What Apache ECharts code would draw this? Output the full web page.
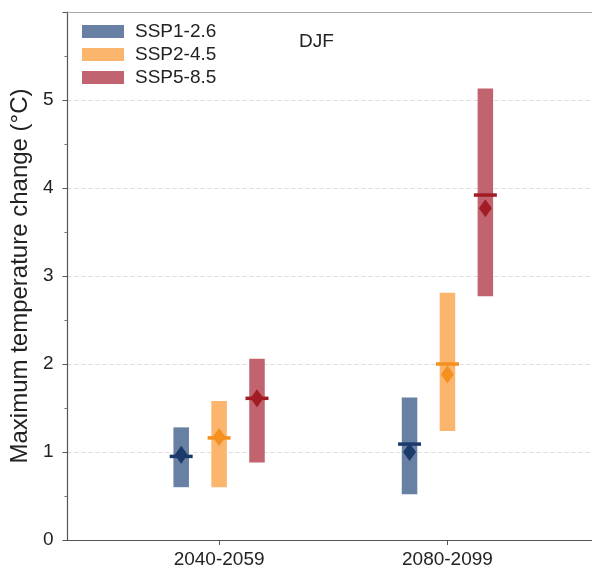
<!DOCTYPE html>
<html>
<head>
<meta charset="utf-8">
<script src="https://cdn.jsdelivr.net/npm/echarts@6/dist/echarts.min.js"></script>
<style>
  html, body { margin: 0; padding: 0; background: #fff; }
  #chart { width: 592px; height: 569px; }
</style>
</head>
<body>
<div id="chart"></div>
<script>
// Periods on the x axis
const periods = ['2040-2059', '2080-2099'];
const scenarios = ['SSP1-2.6', 'SSP2-4.5', 'SSP5-8.5'];

// Range (min, max) of warming per scenario and period
const ssp126Low = [0.60, 0.52];
const ssp126High = [1.28, 1.62];
const ssp245Low = [0.60, 1.24];
const ssp245High = [1.58, 2.81];
const ssp585Low = [0.88, 2.77];
const ssp585High = [2.06, 5.13];

// Median (horizontal bar) and mean (diamond)
const ssp126Median = [0.95, 1.09];
const ssp245Median = [1.16, 2.00];
const ssp585Median = [1.61, 3.92];
const ssp126Mean = [0.97, 1.00];
const ssp245Mean = [1.17, 1.88];
const ssp585Mean = [1.61, 3.77];

const yTicks = [0, 1, 2, 3, 4, 5];

const barColors = ['#6880a3', '#fbb56d', '#c1646f'];
const markColors = ['#1c3a6a', '#f5901f', '#a11c24'];
const offsets = [-0.166, 0, 0.166];

const lows = [ssp126Low, ssp245Low, ssp585Low];
const highs = [ssp126High, ssp245High, ssp585High];
const medians = [ssp126Median, ssp245Median, ssp585Median];
const means = [ssp126Mean, ssp245Mean, ssp585Mean];

const series = [];
scenarios.forEach((name, s) => {
  series.push({
    name: name,
    type: 'custom',
    itemStyle: { color: barColors[s] },
    data: periods.map((p, i) => [i + offsets[s], lows[s][i], highs[s][i]]),
    renderItem: function (params, api) {
      const x = api.value(0);
      const lo = api.coord([x, api.value(1)]);
      const hi = api.coord([x, api.value(2)]);
      const half = api.size([0.034, 0])[0];
      return {
        type: 'rect',
        shape: { x: lo[0] - half, y: hi[1], width: half * 2, height: lo[1] - hi[1] },
        style: { fill: barColors[s] }
      };
    },
    z: 2
  });
  series.push({
    name: name + ' median',
    type: 'scatter',
    symbol: 'rect',
    symbolSize: [23, 3.5],
    itemStyle: { color: markColors[s], opacity: 1 },
    data: periods.map((p, i) => [i + offsets[s], medians[s][i]]),
    z: 4
  });
  series.push({
    name: name + ' mean',
    type: 'scatter',
    symbol: 'diamond',
    symbolSize: [13, 18],
    itemStyle: { color: markColors[s], opacity: 1 },
    data: periods.map((p, i) => [i + offsets[s], means[s][i]]),
    z: 5
  });
});

const chart = echarts.init(document.getElementById('chart'), null, { renderer: 'canvas' });
chart.setOption({
  animation: false,
  backgroundColor: '#ffffff',
  textStyle: { fontFamily: 'Liberation Sans, Arial, sans-serif' },
  title: {
    text: 'DJF',
    left: 294, top: 27,
    textStyle: { fontSize: 19, fontWeight: 'normal', color: '#222' }
  },
  legend: {
    data: scenarios,
    orient: 'vertical',
    left: 77, top: 17,
    itemWidth: 42, itemHeight: 13, itemGap: 4,
    icon: 'rect',
    textStyle: { fontSize: 19, lineHeight: 19, color: '#222', padding: [0, 0, 0, 6] }
  },
  grid: { left: 66, right: 0, top: 12, bottom: 28 },
  xAxis: [{
    type: 'value',
    min: -0.664, max: 1.633,
    interval: 1,
    axisLine: { onZero: false, lineStyle: { color: '#555', width: 1.2 } },
    axisTick: { show: true, length: 5, lineStyle: { color: '#555' },
      customValues: [0, 1] },
    axisLabel: { fontSize: 19, color: '#222', margin: 10,
      customValues: [0, 1],
      formatter: v => periods[Math.round(v)] },
    splitLine: { show: false }
  }, {
    type: 'value', position: 'top',
    min: -0.664, max: 1.633,
    axisLine: { show: true, onZero: false, lineStyle: { color: '#aaa', width: 1.2 } },
    axisTick: { show: false }, axisLabel: { show: false }, splitLine: { show: false }
  }],
  yAxis: {
    type: 'value',
    min: 0, max: 6, interval: 1,
    name: 'Maximum temperature change (°C)',
    nameLocation: 'middle',
    nameGap: 34,
    nameTextStyle: { fontSize: 24, color: '#222' },
    axisLine: { show: true, onZero: false, lineStyle: { color: '#555', width: 1.2 } },
    axisTick: { show: true, length: 5, lineStyle: { color: '#555' } },
    minorTick: { show: true, splitNumber: 2, length: 3, lineStyle: { color: '#777' } },
    axisLabel: { fontSize: 19, color: '#222', margin: 14,
      formatter: v => (yTicks.indexOf(v) >= 0 ? String(v) : '') },
    splitLine: { show: true, lineStyle: { color: '#dcdcdc', type: [4, 3], width: 1 } }
  },
  series: series
});
</script>
</body>
</html>
